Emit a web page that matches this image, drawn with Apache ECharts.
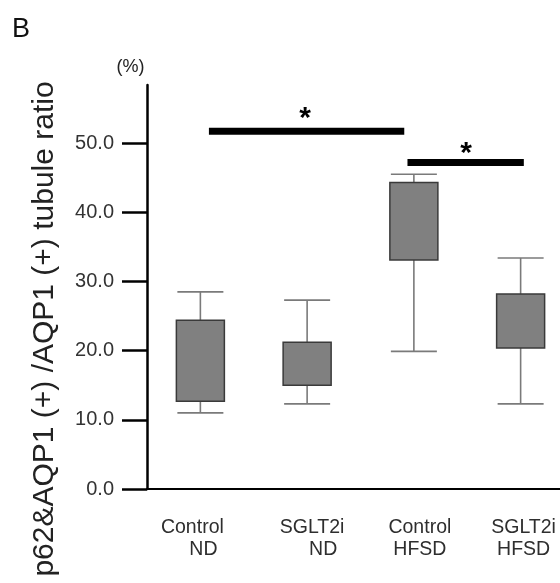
<!DOCTYPE html>
<html>
<head>
  <meta charset="utf-8">
  <title>p62 tubule ratio</title>
  <script src="https://cdn.jsdelivr.net/npm/echarts@6/dist/echarts.min.js"></script>
  <style>
    html, body { margin: 0; padding: 0; background: #fff; }
    #chart { width: 560px; height: 583px; }
  </style>
</head>
<body>
  <div id="chart"></div>
  <script>
    // data
    var categories = ['Control\nND', 'SGLT2i\nND', 'Control\nHFSD', 'SGLT2i\nHFSD'];
    var mins  = [11.0, 12.3, 19.9, 12.3];
    var q1s   = [12.7, 15.0, 33.1, 20.4];
    var q3s   = [24.4, 21.2, 44.3, 28.2];
    var maxs  = [28.5, 27.3, 45.5, 33.4];
    var yTicks = [0, 10, 20, 30, 40, 50];

    // significance bars: [from, to, level] on the category scale (-0.5 .. 3.5)
    var sigBars  = [[0.08, 1.91, 51.7], [1.94, 3.03, 47.2]];
    var sigStars = [[0.98, 53.5], [2.49, 48.4]];

    // small label nudges (px) for each line of each category label
    var labelNudge = [[-8, 3], [5, 16], [6, 6], [3, 3]];

    var boxData = categories.map(function (c, i) {
      return [i, mins[i], q1s[i], q3s[i], maxs[i]];
    });

    var rich = {};
    labelNudge.forEach(function (n, i) {
      n.forEach(function (dx, k) {
        rich['l' + i + k] = {
          fontFamily: 'Liberation Sans',
          fontSize: 19.5,
          lineHeight: 22,
          color: '#2e2e2e',
          padding: dx > 0 ? [0, 0, 0, 2 * dx] : [0, -2 * dx, 0, 0]
        };
      });
    });

    var chart = echarts.init(document.getElementById('chart'));

    var option = {
      animation: false,
      grid: { left: 147, top: 85, width: 427, bottom: 94, outerBoundsMode: 'none' },
      xAxis: [{
        type: 'category',
        data: categories,
        axisLine: { lineStyle: { color: '#000', width: 2 } },
        axisTick: { show: false },
        axisLabel: {
          margin: 28,
          interval: 0,
          formatter: function (v, i) {
            return v.split('\n').map(function (s, k) {
              return '{l' + i + k + '|' + s + '}';
            }).join('\n');
          },
          rich: rich
        }
      }, {
        type: 'value',
        show: false,
        min: -0.5,
        max: 3.5
      }],
      yAxis: {
        type: 'value',
        min: 0,
        max: 58.4,
        interval: 10,
        splitLine: { show: false },
        axisLine: { show: true, onZero: false, lineStyle: { color: '#000', width: 2.5 } },
        axisTick: { show: true, length: 25, customValues: yTicks, lineStyle: { color: '#000', width: 2.5 } },
        axisLabel: {
          customValues: yTicks,
          margin: 33,
          fontFamily: 'Liberation Sans',
          fontSize: 20,
          color: '#333',
          formatter: function (v) { return v.toFixed(1); }
        }
      },
      graphic: [
        { type: 'text', x: 12, y: 30, style: { text: 'B', font: '27px "Liberation Sans"', fill: '#111', verticalAlign: 'middle' } },
        { type: 'text', x: 130.5, y: 67, style: { text: '(%)', font: '18px "Liberation Sans"', fill: '#222', align: 'center', verticalAlign: 'middle' } },
        {
          type: 'text', x: 45, y: 329, rotation: Math.PI / 2,
          style: { text: 'p62&AQP1 (+) /AQP1 (+) tubule ratio', font: '30px "Liberation Sans"', fill: '#222', align: 'center', verticalAlign: 'middle' }
        }
      ],
      series: [{
        type: 'custom',
        data: boxData,
        encode: { x: 0, y: [1, 2, 3, 4] },
        renderItem: function (params, api) {
          var i = api.value(0);
          var lo = api.coord([i, api.value(1)]);
          var q1 = api.coord([i, api.value(2)]);
          var q3 = api.coord([i, api.value(3)]);
          var hi = api.coord([i, api.value(4)]);
          var cx = lo[0], boxW = 48, capW = 46;
          var wStyle = { stroke: '#7a7a7a', lineWidth: 1.6 };
          return {
            type: 'group',
            children: [
              { type: 'line', shape: { x1: cx, y1: hi[1], x2: cx, y2: q3[1] }, style: wStyle },
              { type: 'line', shape: { x1: cx, y1: q1[1], x2: cx, y2: lo[1] }, style: wStyle },
              { type: 'line', shape: { x1: cx - capW / 2, y1: hi[1], x2: cx + capW / 2, y2: hi[1] }, style: wStyle },
              { type: 'line', shape: { x1: cx - capW / 2, y1: lo[1], x2: cx + capW / 2, y2: lo[1] }, style: wStyle },
              {
                type: 'rect',
                shape: { x: cx - boxW / 2, y: q3[1], width: boxW, height: q1[1] - q3[1] },
                style: { fill: '#808080', stroke: '#3a3a3a', lineWidth: 1.5 }
              }
            ]
          };
        }
      }, {
        type: 'custom',
        xAxisIndex: 1,
        data: sigBars,
        encode: { x: [0, 1], y: 2 },
        renderItem: function (params, api) {
          var a = api.coord([api.value(0), api.value(2)]);
          var b = api.coord([api.value(1), api.value(2)]);
          return {
            type: 'rect',
            shape: { x: a[0], y: a[1] - 3.5, width: b[0] - a[0], height: 7 },
            style: { fill: '#000' }
          };
        }
      }, {
        type: 'custom',
        xAxisIndex: 1,
        data: sigStars,
        encode: { x: 0, y: 1 },
        renderItem: function (params, api) {
          var p = api.coord([api.value(0), api.value(1)]);
          return {
            type: 'text',
            x: p[0], y: p[1],
            style: { text: '*', font: 'bold 30px "Liberation Sans"', fill: '#000', align: 'center', verticalAlign: 'middle' }
          };
        }
      }]
    };

    chart.setOption(option);
  </script>
</body>
</html>
